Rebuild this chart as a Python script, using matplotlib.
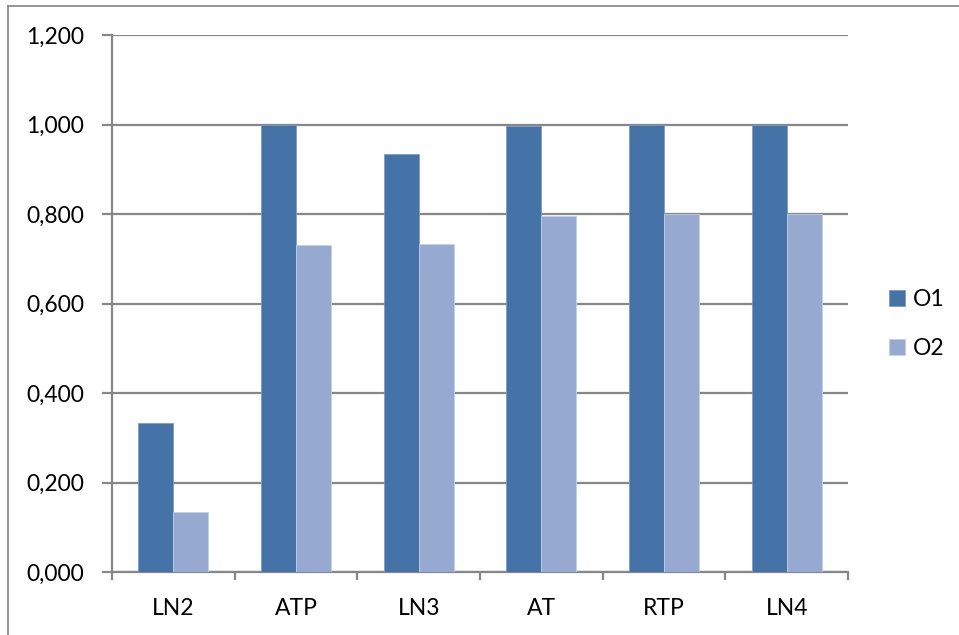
import numpy as np
import matplotlib
matplotlib.use("Agg")
import matplotlib.pyplot as plt
from matplotlib.lines import Line2D
from matplotlib.ticker import FuncFormatter

categories = ["LN2", "ATP", "LN3", "AT", "RTP", "LN4"]
o1_values = [0.333, 1.000, 0.934, 0.996, 1.000, 1.000]
o2_values = [0.133, 0.731, 0.733, 0.795, 0.800, 0.800]
series_names = ["O1", "O2"]
y_ticks = [0.0, 0.2, 0.4, 0.6, 0.8, 1.0, 1.2]

plt.rcParams["font.family"] = ["Lato", "DejaVu Sans"]

c_o1 = "#4572A7"
c_o2 = "#95A9D1"
grey = "#878787"
fs = 16.5

fig = plt.figure(figsize=(9.59, 6.35), dpi=100)
ax = fig.add_axes([112 / 959, 63 / 635, 736 / 959, 537 / 635])

x = np.arange(len(categories))
w = 1 / 3.5
ax.bar(x - w / 2, o1_values, w, color=c_o1, edgecolor="#7A9CC6", linewidth=0.6,
       label=series_names[0], zorder=3)
ax.bar(x + w / 2, o2_values, w, color=c_o2, edgecolor="#C2D0E8", linewidth=0.6,
       label=series_names[1], zorder=3)

ax.set_xlim(-0.5, len(categories) - 0.5)
ax.set_ylim(0, 1.2)
ax.set_yticks(y_ticks)
ax.yaxis.set_major_formatter(FuncFormatter(lambda v, p: f"{v:.3f}".replace(".", ",")))
ax.yaxis.grid(True, color=grey, linewidth=1.6, zorder=0)
ax.set_axisbelow(True)

# category labels centred, tick marks on category boundaries
ax.set_xticks(x)
ax.set_xticklabels(categories)
ax.tick_params(axis="x", which="major", length=0, pad=19, labelsize=fs)
ax.set_xticks(np.arange(len(categories) + 1) - 0.5, minor=True)
ax.tick_params(axis="x", which="minor", length=6, width=1.6, color=grey, direction="out")
ax.tick_params(axis="y", length=7, width=1.6, color=grey, pad=13, labelsize=fs)

for s in ["top", "right"]:
    ax.spines[s].set_visible(False)
for s in ["left", "bottom"]:
    ax.spines[s].set_color(grey)
    ax.spines[s].set_linewidth(1.6)

leg = fig.legend(loc="center left", bbox_to_anchor=(889 / 959, 1 - 324 / 635),
                 frameon=False, fontsize=fs, handlelength=0.7, handleheight=0.7,
                 handletextpad=0.35, labelspacing=1.25, borderpad=0, borderaxespad=0)

# outer chart frame (top and left edges)
fig.add_artist(Line2D([8 / 959, 8 / 959], [0, 1 - 6 / 635], transform=fig.transFigure,
                      color="#8C8C8C", linewidth=1.3))
fig.add_artist(Line2D([8 / 959, 1], [1 - 6 / 635, 1 - 6 / 635], transform=fig.transFigure,
                      color="#8C8C8C", linewidth=1.3))

fig.savefig("out.png", dpi=100, facecolor="white")
